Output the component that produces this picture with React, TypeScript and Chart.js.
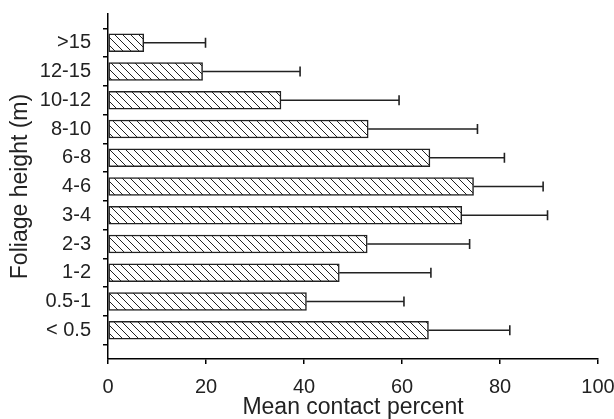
import React, { useEffect, useRef } from "react";
import { Chart, registerables } from "chart.js";

Chart.register(...registerables);

// Categories from bottom to top
const categories = ["< 0.5", "0.5-1", "1-2", "2-3", "3-4", "4-6", "6-8", "8-10", "10-12", "12-15", ">15"];
const meanValues = [65.4, 40.5, 47.2, 52.9, 72.2, 74.6, 65.7, 53.1, 35.3, 19.3, 7.3];
const errorUpper = [82.0, 60.4, 65.9, 73.8, 89.7, 88.8, 80.9, 75.4, 59.4, 39.2, 19.9];
const xTicks = [0, 20, 40, 60, 80, 100];

function makeHatch(): CanvasPattern | string {
  const c = document.createElement("canvas");
  const s = 8;
  c.width = s;
  c.height = s;
  const ctx = c.getContext("2d");
  if (!ctx) return "#fff";
  ctx.fillStyle = "#fff";
  ctx.fillRect(0, 0, s, s);
  ctx.strokeStyle = "#222";
  ctx.lineWidth = 1;
  ctx.beginPath();
  ctx.moveTo(-1, -1);
  ctx.lineTo(s + 1, s + 1);
  ctx.moveTo(-1 - s, -1);
  ctx.lineTo(1, s + 1);
  ctx.moveTo(s - 1, -1);
  ctx.lineTo(2 * s + 1, s + 1);
  ctx.stroke();
  const p = ctx.createPattern(c, "repeat");
  return p || "#fff";
}

const errorBarPlugin = {
  id: "errorBars",
  afterDatasetsDraw(chart: any) {
    const ctx = chart.ctx;
    const xs = chart.scales.x;
    const ys = chart.scales.y;
    ctx.save();
    ctx.strokeStyle = "#222";
    ctx.lineWidth = 1.6;
    meanValues.forEach((m, i) => {
      const y = ys.getPixelForValue(i + 1);
      const x0 = xs.getPixelForValue(m);
      const x1 = xs.getPixelForValue(errorUpper[i]);
      ctx.beginPath();
      ctx.moveTo(x0, y);
      ctx.lineTo(x1, y);
      ctx.moveTo(x1, y - 5);
      ctx.lineTo(x1, y + 5);
      ctx.stroke();
    });
    ctx.restore();
  },
};

export default function App() {
  const ref = useRef<HTMLCanvasElement | null>(null);
  useEffect(() => {
    document.body.style.margin = "0";
    if (!ref.current) return;
    const hatch = makeHatch();
    const chart = new Chart(ref.current, {
      type: "bar",
      data: {
        datasets: [
          {
            data: meanValues.map((v, i) => ({ x: v, y: i + 1 })),
            backgroundColor: hatch as any,
            borderColor: "#222",
            borderWidth: 1.5,
            borderSkipped: false,
            barThickness: 18,
          },
        ],
      },
      options: {
        indexAxis: "y",
        animation: false,
        responsive: false,
        maintainAspectRatio: false,
        layout: { padding: { top: 14, right: 16, left: 0, bottom: 0 } },
        plugins: { legend: { display: false }, tooltip: { enabled: false } },
        scales: {
          x: {
            type: "linear",
            min: 0,
            max: 100,
            offset: false,
            afterBuildTicks: (scale: any) => {
              scale.ticks = xTicks.map((v) => ({ value: v }));
            },
            afterFit: (scale: any) => {
              scale.height = 60;
              scale.paddingLeft = 0;
              scale.paddingRight = 0;
            },
            ticks: {
              color: "#222",
              font: { family: "Liberation Sans", size: 20 },
              padding: 11,
              maxRotation: 0,
              autoSkip: false,
            },
            grid: {
              display: true,
              drawOnChartArea: false,
              drawTicks: true,
              tickLength: 5,
              color: "#000",
              lineWidth: 1.5,
            },
            border: { display: true, color: "#000", width: 1.5 },
            title: {
              display: true,
              text: "Mean contact percent",
              color: "#222",
              font: { family: "Liberation Sans", size: 23, lineHeight: 1 },
              padding: { top: 0, bottom: 0 },
            },
          },
          y: {
            type: "linear",
            min: 0,
            max: 12,
            offset: false,
            afterBuildTicks: (scale: any) => {
              const t = [];
              for (let i = 0; i <= 12; i++) t.push({ value: i });
              scale.ticks = t;
            },
            afterFit: (scale: any) => {
              scale.width = 108;
              scale.paddingTop = 0;
              scale.paddingBottom = 0;
            },
            ticks: {
              color: "#222",
              font: { family: "Liberation Sans", size: 20 },
              padding: 12,
              autoSkip: false,
              callback: (v: any) => categories[Number(v) - 1] ?? "",
            },
            grid: {
              display: true,
              drawOnChartArea: false,
              drawTicks: true,
              tickLength: 5,
              color: "#000",
              lineWidth: 1.5,
            },
            border: { display: true, color: "#000", width: 1.5 },
            title: {
              display: true,
              text: "Foliage height (m)",
              color: "#222",
              font: { family: "Liberation Sans", size: 23, lineHeight: 1.2 },
              padding: { top: 7, bottom: 0 },
            },
          },
        },
      },
      plugins: [errorBarPlugin],
    });
    return () => chart.destroy();
  }, []);
  return (
    <div style={{ width: 614, height: 419 }}>
      <canvas ref={ref} width={614} height={419} style={{ display: "block" }} />
    </div>
  );
}
